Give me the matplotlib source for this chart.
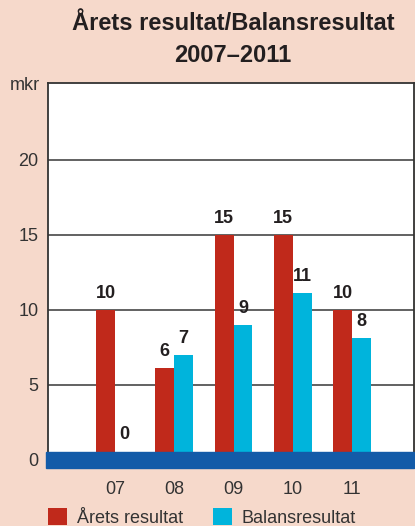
import matplotlib
matplotlib.use("Agg")
import matplotlib.pyplot as plt
import numpy as np

plt.rcParams['font.family'] = ['Liberation Sans', 'DejaVu Sans']

years = ['07', '08', '09', '10', '11']
arets = [10, 6.1, 15, 15, 10]
balans = [0, 7, 9, 11.1, 8.1]
arets_lbl = ['10', '6', '15', '15', '10']
balans_lbl = ['0', '7', '9', '11', '8']
yticks = [0, 5, 10, 15, 20]

bg = '#F6D9CB'
red = '#C0291B'
cyan = '#00B4DC'
navy = '#135BA8'
txt = '#231F20'

fig = plt.figure(figsize=(4.15, 5.26), dpi=100, facecolor=bg)
ax = fig.add_axes([48 / 415, 1 - 467.5 / 526, 366 / 415, 384.5 / 526])
ax.set_facecolor('white')

x = np.arange(len(years))
w = 0.32
b1 = ax.bar(x - w / 2, arets, w, color=red, zorder=2, label='Årets resultat')
b2 = ax.bar(x + w / 2, balans, w, color=cyan, zorder=2, label='Balansresultat')

# value labels above bars (zero bar sits on the band)
for rects, lbls in ((b1, arets_lbl), (b2, balans_lbl)):
    for r, l in zip(rects, lbls):
        h = max(r.get_height(), 0.6)
        ax.annotate(l, (r.get_x() + r.get_width() / 2, h), xytext=(0, 6),
                    textcoords='offset points', ha='center', va='bottom',
                    fontsize=13, fontweight='bold', color=txt, zorder=4)

ax.axhspan(-0.5, 0.5, xmin=-0.005, xmax=1, color=navy, zorder=3, clip_on=False)

ax.set_xlim(-1.131, 5.046)
ax.set_ylim(-0.5, 25.13)
ax.set_yticks(yticks)
ax.set_xticks(x)
ax.set_xticklabels(years)
ax.tick_params(axis='both', length=0, labelsize=13, colors='#333333')
ax.tick_params(axis='y', pad=7)
ax.tick_params(axis='x', pad=10)
for yv in yticks[1:]:
    ax.axhline(yv, color='#555555', lw=1.3, zorder=1)

for s in ['left', 'top', 'right']:
    ax.spines[s].set_color('#333333')
    ax.spines[s].set_linewidth(1.3)
ax.spines['bottom'].set_visible(False)

fig.text(40 / 415, 1 - 86 / 526, 'mkr', ha='right', va='center', fontsize=13, color='#333333')
fig.text(233 / 415, 1 - 23 / 526, 'Årets resultat/Balansresultat', ha='center', va='center',
         fontsize=17, fontweight='bold', color=txt)
fig.text(233 / 415, 1 - 55 / 526, '2007–2011', ha='center', va='center',
         fontsize=17, fontweight='bold', color=txt)

fig.legend(handles=[b1, b2], loc='upper left', bbox_to_anchor=(48 / 415, 1 - 508 / 526),
           ncol=2, frameon=False, fontsize=13, handlelength=1.05, handleheight=1.05,
           handletextpad=0.55, columnspacing=1.65, borderpad=0, borderaxespad=0,
           labelcolor='#333333')

fig.savefig('out.png', dpi=100, facecolor=bg)
